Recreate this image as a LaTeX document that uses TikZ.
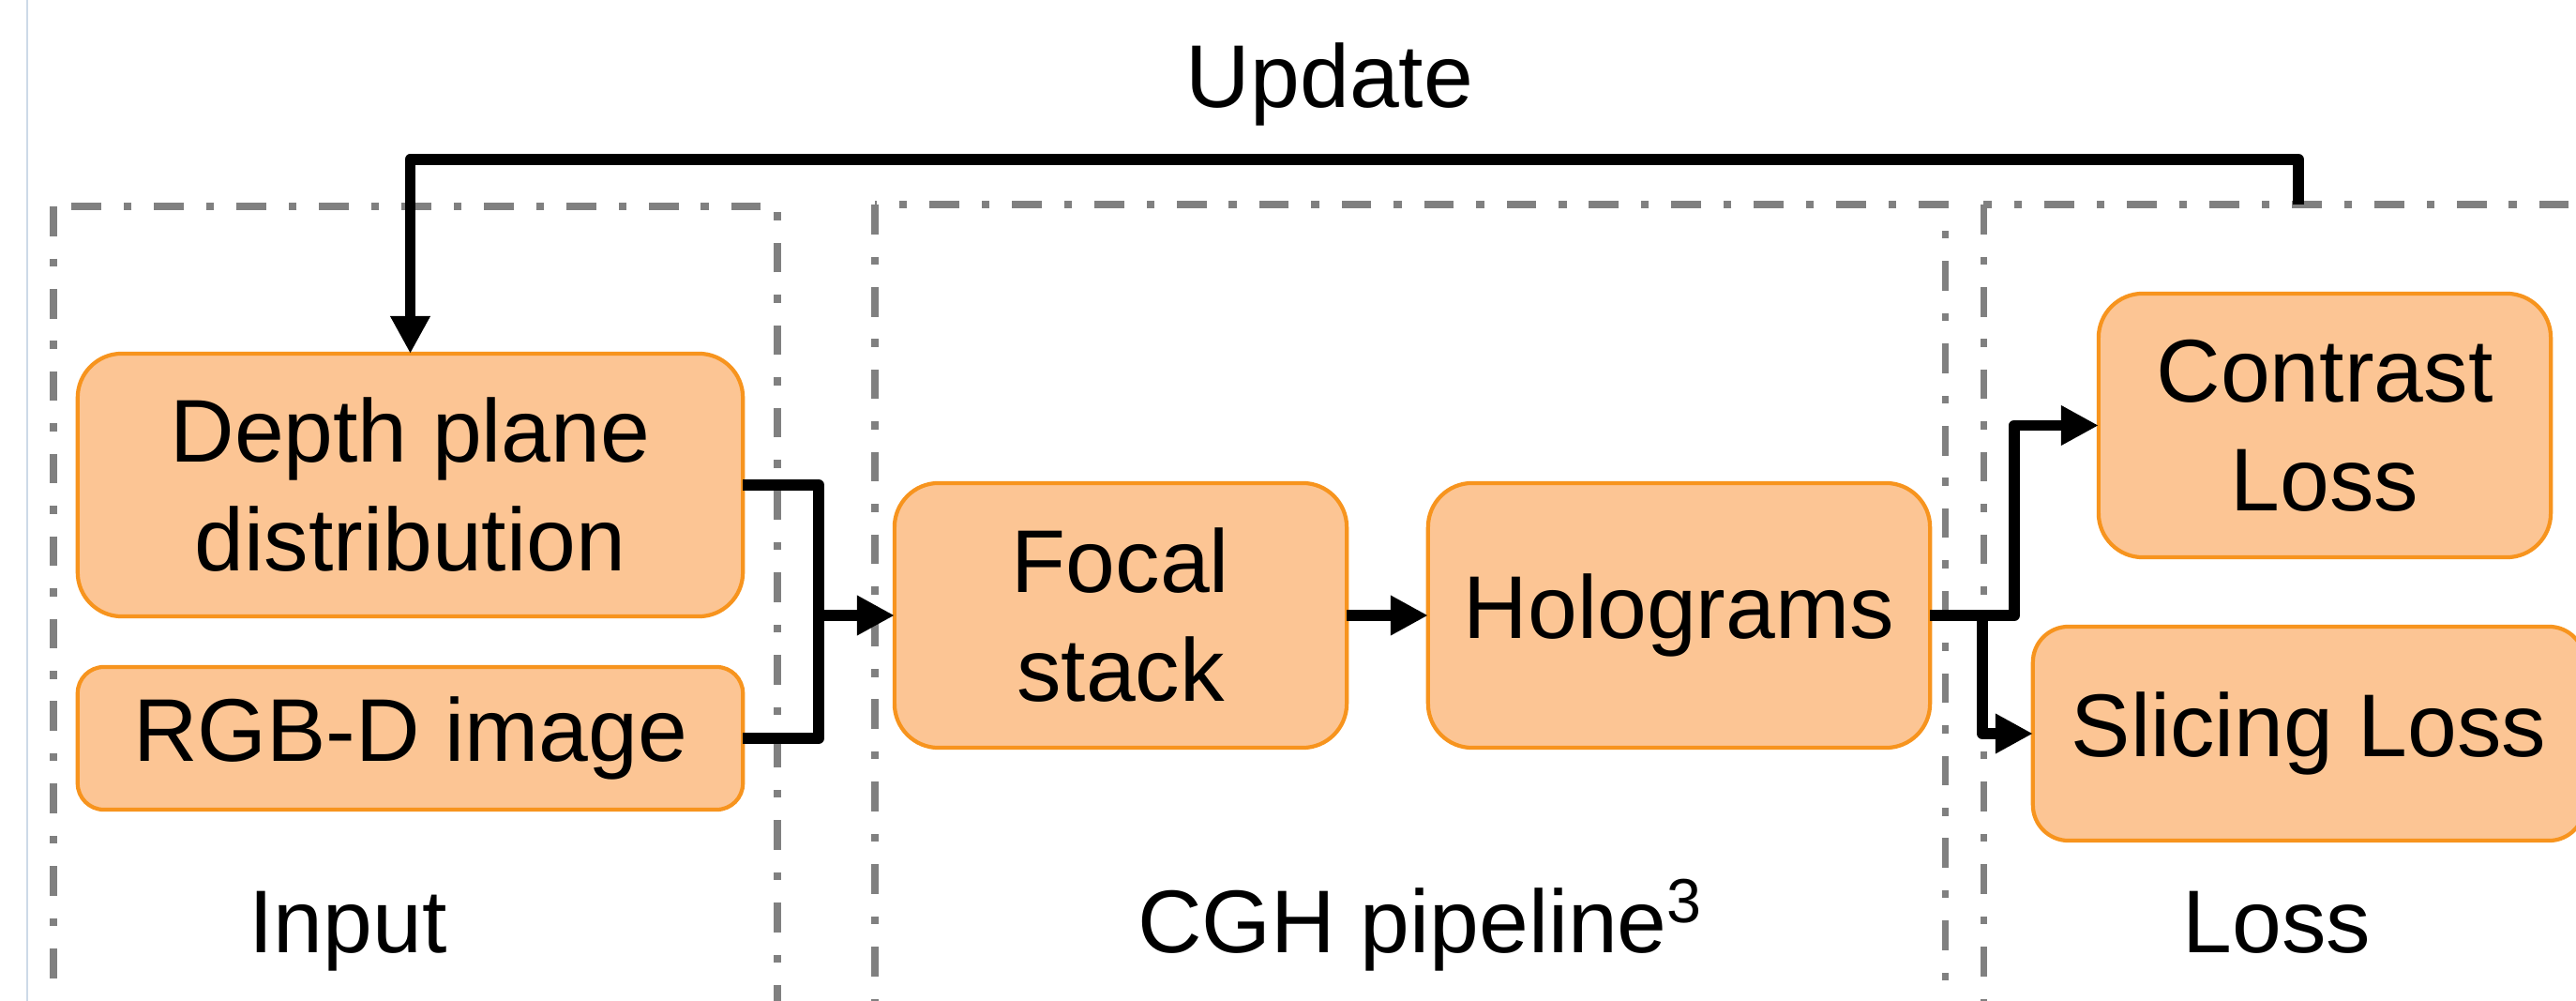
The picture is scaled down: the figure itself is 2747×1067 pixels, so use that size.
\documentclass[tikz,border=0pt]{standalone}
\usepackage{fontspec}
\setmainfont{Liberation Sans}
\usetikzlibrary{arrows.meta}
\definecolor{boxfill}{RGB}{252,197,148}
\definecolor{boxline}{RGB}{247,148,30}
\definecolor{framegray}{RGB}{128,128,128}
\definecolor{edgeblue}{RGB}{205,218,232}
\newcommand{\diagfont}{\fontsize{27pt}{33pt}\selectfont}
\begin{document}
\begin{tikzpicture}[x=0.01cm,y=-0.01cm,
  blk/.style={draw=boxline, fill=boxfill, line width=1.2pt, align=center,
    font=\diagfont, inner sep=0pt, outer sep=0pt},
  lbl/.style={font=\diagfont, inner sep=0pt, anchor=base},
  wire/.style={line width=3.4pt, line join=round, draw=black},
  arrowconn/.style={wire, -{Triangle[length=0.4cm,width=0.4cm]}},
  framebox/.style={draw=framegray, line width=2pt,
    dash pattern=on 9pt off 6.8pt on 2.4pt off 6.8pt}]
\useasboundingbox (0,0) rectangle (2747,1067);
\fill[white] (0,0) rectangle (2747,1067);
\begin{scope}
  \clip (0,0) rectangle (2747,1067);
  \draw[edgeblue, line width=0.6pt] (29,0) -- (29,1067);
  \draw[framebox] (57,220) rectangle (829,1100);
  \draw[framebox] (933,218) rectangle (2074,1100);
  \draw[framebox] (2115,218) rectangle (2820,1100);
\end{scope}

% boxes
\node[blk, rounded corners=0.47cm, minimum width=7.09cm, minimum height=2.80cm] (depth) at (437.5,517) {Depth plane\\distribution};
\node[blk, rounded corners=0.28cm, minimum width=7.09cm, minimum height=1.52cm] (rgbd) at (437.5,787) {RGB-D image};
\node[blk, rounded corners=0.47cm, minimum width=4.82cm, minimum height=2.82cm] (focal) at (1195,656) {Focal\\stack};
\node[blk, rounded corners=0.47cm, minimum width=5.35cm, minimum height=2.82cm] (holo) at (1790.5,656) {Holograms};
\node[blk, rounded corners=0.47cm, minimum width=4.82cm, minimum height=2.81cm] (contrast) at (2479,453.5) {Contrast\\Loss};
\node[blk, rounded corners=0.38cm, minimum width=5.88cm, minimum height=2.28cm] (slicing) at (2462,782) {Slicing Loss};

% labels
\node[lbl] (update) at (1418,115) {Update};
\node[lbl] (input) at (371,1015) {Input};
\node[lbl] (cgh) at (1515,1015) {CGH pipeline\textsuperscript{3}};
\node[lbl] (loss) at (2428,1015) {Loss};

% connector coordinates
\coordinate (merge) at (873,656);
\coordinate (updsrc) at (2451,218);
\coordinate (updtop) at (2451,170);
\coordinate (splitA) at (2114,656);
\coordinate (splitB) at (2148,656);

% connectors
\draw[arrowconn] (updsrc) -- (updtop) -| (depth.north);
\draw[wire] (depth.east) -| (merge) |- (rgbd.east);
\draw[arrowconn] (merge) -- (focal.west);
\draw[arrowconn] (focal.east) -- (holo.west);
\draw[arrowconn] (holo.east) -- (splitB) |- (contrast.west);
\draw[arrowconn] (splitA) |- (slicing.west);
\end{tikzpicture}
\end{document}
